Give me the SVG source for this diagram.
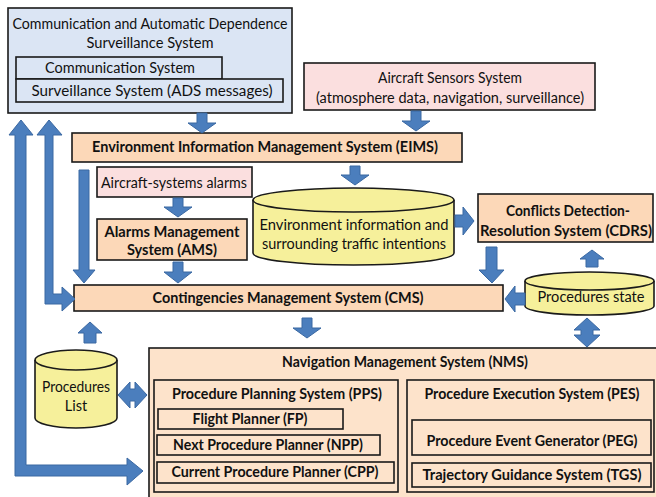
<svg xmlns="http://www.w3.org/2000/svg" width="656" height="497" viewBox="0 0 656 497">
<style>
.bx{stroke:#1a1a1a;stroke-width:1.6}
.blue{fill:#dbe5f4}
.pink{fill:#fbdfdf}
.org{fill:#fcd8b8}
.nms{fill:#fde3cb}
.cyl{fill:#f6f09b;stroke:#1a1a1a;stroke-width:1.6}
.arr{fill:#4b7ebd;stroke:#3a68a2;stroke-width:1}
text{font-family:Lato,"Open Sans","Liberation Sans",sans-serif;font-size:14.5px;fill:#111}
.b{font-weight:bold}
</style>
<rect width="656" height="497" fill="#fff"/>
<g id="cadss">
<rect class="bx blue" x="8" y="8" width="284" height="105"/>
<text x="150" y="29" text-anchor="middle" textLength="275" lengthAdjust="spacingAndGlyphs">Communication and Automatic Dependence</text>
<text x="150" y="48" text-anchor="middle" textLength="127" lengthAdjust="spacingAndGlyphs">Surveillance System</text>
</g>
<g id="comm">
<rect class="bx blue" x="16" y="57" width="206" height="22"/>
<text x="120" y="73" text-anchor="middle" textLength="150" lengthAdjust="spacingAndGlyphs">Communication  System</text>
</g>
<g id="surv">
<rect class="bx blue" x="16" y="79" width="267" height="23"/>
<text x="152" y="96" text-anchor="middle" textLength="241" lengthAdjust="spacingAndGlyphs">Surveillance  System  (ADS  messages)</text>
</g>
<g id="sensors">
<rect class="bx pink" x="304" y="63" width="291" height="47"/>
<text x="450" y="83" text-anchor="middle" textLength="144" lengthAdjust="spacingAndGlyphs">Aircraft Sensors System</text>
<text x="450" y="103" text-anchor="middle" textLength="268" lengthAdjust="spacingAndGlyphs">(atmosphere data, navigation, surveillance)</text>
</g>
<g id="eims">
<rect class="bx org" x="72" y="133" width="390" height="29"/>
<text class="b" x="265" y="152" text-anchor="middle" textLength="346" lengthAdjust="spacingAndGlyphs">Environment Information  Management System (EIMS)</text>
</g>
<g id="alarms">
<rect class="bx pink" x="97" y="167" width="155" height="30"/>
<text x="174" y="188" text-anchor="middle" textLength="146" lengthAdjust="spacingAndGlyphs">Aircraft-systems alarms</text>
</g>
<g id="ams">
<rect class="bx org" x="97" y="219" width="150" height="41"/>
<text class="b" x="172" y="237" text-anchor="middle" textLength="135" lengthAdjust="spacingAndGlyphs">Alarms Management</text>
<text class="b" x="172" y="255" text-anchor="middle" textLength="90" lengthAdjust="spacingAndGlyphs">System (AMS)</text>
</g>
<g id="cms">
<rect class="bx org" x="74" y="285" width="429" height="26"/>
<text class="b" x="288" y="303" text-anchor="middle" textLength="271" lengthAdjust="spacingAndGlyphs">Contingencies  Management System (CMS)</text>
</g>
<g id="envinfo">
<path class="cyl" d="M253,200 A100.5,12 0 0 1 454,200 L454,253 A100.5,12 0 0 1 253,253 Z"/>
<path d="M253,200 A100.5,12 0 0 0 454,200" fill="none" stroke="#1a1a1a" stroke-width="1.6"/>
<text x="354" y="230" text-anchor="middle" textLength="189" lengthAdjust="spacingAndGlyphs">Environment  information  and</text>
<text x="354" y="249" text-anchor="middle" textLength="184" lengthAdjust="spacingAndGlyphs">surrounding traffic intentions</text>
</g>
<g id="cdrs">
<rect class="bx org" x="478" y="194" width="175" height="48"/>
<text class="b" x="568" y="216" text-anchor="middle" textLength="124" lengthAdjust="spacingAndGlyphs">Conflicts Detection-</text>
<text class="b" x="566" y="236" text-anchor="middle" textLength="172" lengthAdjust="spacingAndGlyphs">Resolution System (CDRS)</text>
</g>
<g id="procstate">
<path class="cyl" d="M525,281 A64.5,9 0 0 1 654,281 L654,306 A64.5,9 0 0 1 525,306 Z"/>
<path d="M525,281 A64.5,9 0 0 0 654,281" fill="none" stroke="#1a1a1a" stroke-width="1.6"/>
<text x="591" y="302" text-anchor="middle" textLength="107" lengthAdjust="spacingAndGlyphs">Procedures state</text>
</g>
<g id="proclist">
<path class="cyl" d="M35,360 A41,10 0 0 1 117,360 L117,418 A41,10 0 0 1 35,418 Z"/>
<path d="M35,360 A41,10 0 0 0 117,360" fill="none" stroke="#1a1a1a" stroke-width="1.6"/>
<text x="76" y="392" text-anchor="middle" textLength="68" lengthAdjust="spacingAndGlyphs">Procedures</text>
<text x="76" y="411" text-anchor="middle">List</text>
</g>
<g id="nms">
<rect class="bx nms" x="149" y="348" width="515" height="160"/>
<text class="b" x="405" y="367" text-anchor="middle" textLength="246" lengthAdjust="spacingAndGlyphs">Navigation Management System (NMS)</text>
</g>
<g id="pps">
<rect class="bx nms" x="154" y="380" width="244" height="112"/>
<text class="b" x="277" y="399" text-anchor="middle" textLength="210" lengthAdjust="spacingAndGlyphs">Procedure Planning System (PPS)</text>
</g>
<g id="fp">
<rect class="bx nms" x="158" y="409" width="185" height="20"/>
<text class="b" x="250" y="424" text-anchor="middle" textLength="115" lengthAdjust="spacingAndGlyphs">Flight Planner (FP)</text>
</g>
<g id="npp">
<rect class="bx nms" x="157" y="435" width="223" height="20"/>
<text class="b" x="268" y="450" text-anchor="middle" textLength="190" lengthAdjust="spacingAndGlyphs">Next Procedure Planner (NPP)</text>
</g>
<g id="cpp">
<rect class="bx nms" x="157" y="462" width="237" height="21"/>
<text class="b" x="275" y="477" text-anchor="middle" textLength="207" lengthAdjust="spacingAndGlyphs">Current Procedure Planner (CPP)</text>
</g>
<g id="pes">
<rect class="bx nms" x="407" y="380" width="247" height="112"/>
<text class="b" x="532" y="399" text-anchor="middle" textLength="215" lengthAdjust="spacingAndGlyphs">Procedure Execution System (PES)</text>
</g>
<g id="peg">
<rect class="bx nms" x="412" y="420" width="239" height="35"/>
<text class="b" x="532" y="446" text-anchor="middle" textLength="211" lengthAdjust="spacingAndGlyphs">Procedure Event Generator (PEG)</text>
</g>
<g id="tgs">
<rect class="bx nms" x="412" y="463" width="239" height="24"/>
<text class="b" x="532" y="480" text-anchor="middle" textLength="219" lengthAdjust="spacingAndGlyphs">Trajectory  Guidance  System (TGS)</text>
</g>
<g id="connectors">
<polygon class="arr" points="197,113 207,113 207,123 216,123 202,133 188,123 197,123"/>
<polygon class="arr" points="411,111 421,111 421,121 430,121 416,131 402,121 411,121"/>
<polygon class="arr" points="350,166 360,166 360,175 369,175 355,185 341,175 350,175"/>
<polygon class="arr" points="173,198 183,198 183,207 192,207 178,217 164,207 173,207"/>
<polygon class="arr" points="173,262 183,262 183,272 192,272 178,283 164,272 173,272"/>
<polygon class="arr" points="79,170 89,170 89,270 95,270 84,283 73,270 79,270"/>
<polygon class="arr" points="455,215 463,215 463,207 474,221 463,235 463,227 455,227"/>
<polygon class="arr" points="486,247 497,247 497,270 504,270 492,283 479,270 486,270"/>
<polygon class="arr" points="586,267 598,267 598,259 604,259 592,250 580,259 586,259"/>
<polygon class="arr" points="525,293 525,305 515,305 515,312 505,299 515,286 515,293"/>
<polygon class="arr" points="587,318 600,330 593,330 593,335 600,335 587,347 574,335 581,335 581,330 574,330"/>
<polygon class="arr" points="302,318 312,318 312,328 321,328 307,338 293,328 302,328"/>
<polygon class="arr" points="84,343 96,343 96,333 102,333 90,322 78,333 84,333"/>
<polygon class="arr" points="118,395 130,382 130,389 135,389 135,382 147,395 135,408 135,401 130,401 130,408"/>
<polygon class="arr" points="45,304 45,135 37,135 49,120 62,135 53,135 53,294 62,294 62,287 75,299 62,311 62,304"/>
<polygon class="arr" points="15,476 15,135 9,135 21,120 33,135 26,135 26,465 127,465 127,458 143,471 127,485 127,476"/>
</g>
</svg>
